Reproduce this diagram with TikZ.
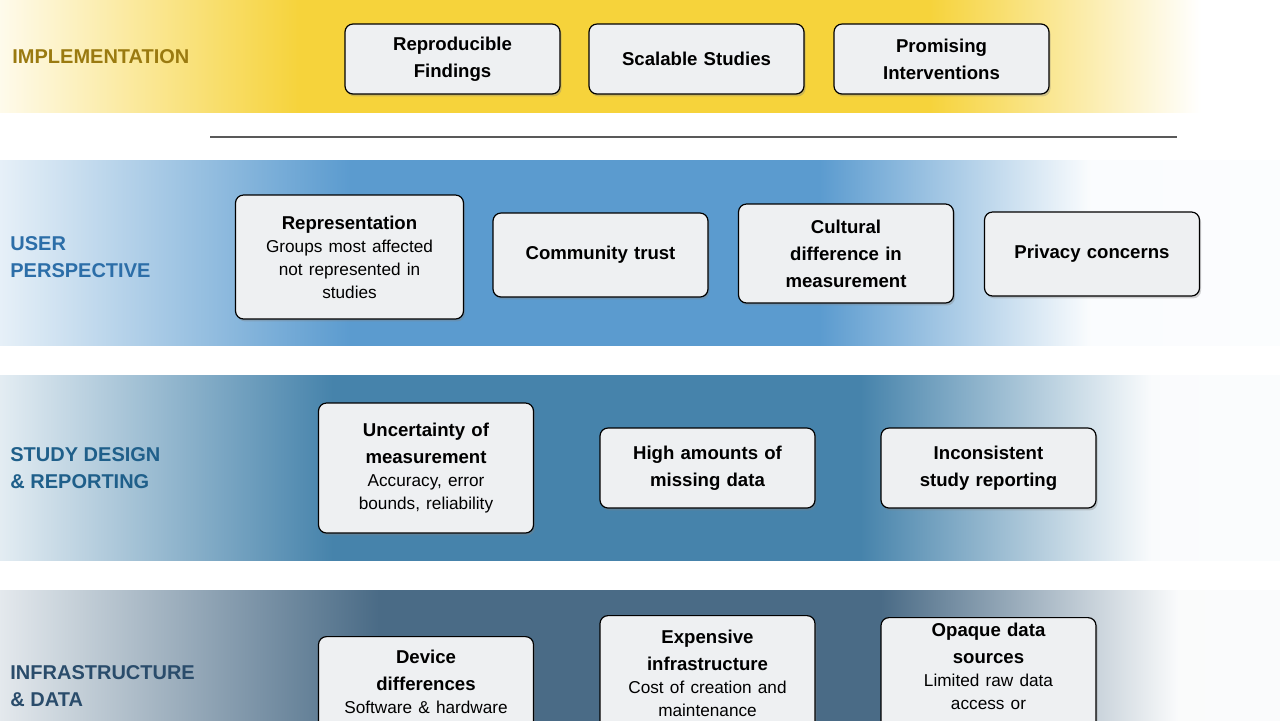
\documentclass[tikz,border=0pt]{standalone}
\usepackage{fontspec}
\setmainfont{Liberation Sans}
\usetikzlibrary{positioning,shadows}
\definecolor{implY}{HTML}{F6D33B}
\definecolor{userB}{HTML}{5B9BCF}
\definecolor{studyB}{HTML}{4683AB}
\definecolor{infraB}{HTML}{4A6B86}
\definecolor{cardfill}{HTML}{EEF0F2}
\definecolor{implT}{HTML}{9A7A10}
\definecolor{userT}{HTML}{2C6EA8}
\definecolor{studyT}{HTML}{1F5F8A}
\definecolor{infraT}{HTML}{2A4C6B}
\newcommand\subtxt{\fontsize{8.6pt}{11.5pt}\selectfont\mdseries}
\pgfdeclarehorizontalshading{implshade}{100bp}{color(0bp)=(white); color(25bp)=(white!90!implY); color(36.7bp)=(implY); color(61.3bp)=(implY); color(71.9bp)=(white); color(100bp)=(white)}
\pgfdeclarehorizontalshading{usershade}{100bp}{color(0bp)=(white); color(25bp)=(white!85!userB); color(38.7bp)=(userB); color(57bp)=(userB); color(67.6bp)=(white!97!userB); color(100bp)=(white)}
\pgfdeclarehorizontalshading{studyshade}{100bp}{color(0bp)=(white); color(25bp)=(white!85!studyB); color(38bp)=(studyB); color(58.6bp)=(studyB); color(70bp)=(white!97!studyB); color(100bp)=(white)}
\pgfdeclarehorizontalshading{infrashade}{100bp}{color(0bp)=(white); color(25bp)=(white!85!infraB); color(39.8bp)=(infraB); color(59.4bp)=(infraB); color(71bp)=(white!97!infraB); color(100bp)=(white)}
\tikzset{
  card/.style={draw=black, line width=0.6pt, fill=cardfill, rounded corners=4pt,
    minimum width=107.5pt, text width=100pt, align=center, inner sep=2pt,
    font=\fontsize{9.3pt}{13.5pt}\selectfont\bfseries,
    drop shadow={shadow xshift=0.8pt, shadow yshift=-1.2pt, opacity=0.35}},
  cardtext/.style={align=center, text width=100pt, inner sep=0pt,
    font=\fontsize{9.3pt}{13.5pt}\selectfont\bfseries},
  rowlabel/.style={anchor=west, align=left, inner sep=0pt,
    font=\fontsize{10pt}{13.5pt}\selectfont\bfseries}
}
\begin{document}
\begin{tikzpicture}[x=0.5pt, y=-0.5pt]
\useasboundingbox (0,0) rectangle (1280,720);
\clip (0,0) rectangle (1280,720);
% bands
\shade[shading=implshade] (0,0) rectangle (1280,112);
\shade[shading=usershade] (0,160) rectangle (1280,345);
\shade[shading=studyshade] (0,375) rectangle (1280,560);
\shade[shading=infrashade] (0,590) rectangle (1280,740);
\coordinate (divl) at (210,137);
\coordinate (divr) at (1177,137);
\draw[line width=1pt, black!65] (divl) -- (divr);
% row labels
\node[rowlabel, text=implT] (limpl) at (12,57) {IMPLEMENTATION};
\node[rowlabel, text=userT] (luser) at (10,257) {USER\\PERSPECTIVE};
\node[rowlabel, text=studyT] (lstudy) at (10,468) {STUDY DESIGN\\\& REPORTING};
\node[rowlabel, text=infraT] (linfra) at (10,686) {INFRASTRUCTURE\\\& DATA};
% implementation
\node[card, minimum height=35pt] (repro) at (452.5,59) {Reproducible\\Findings};
\node[card, minimum height=35pt] (scal) at (696.5,59) {Scalable Studies};
\node[card, minimum height=35pt] (prom) at (941.5,59) {Promising\\Interventions};
% user perspective
\node[card, minimum width=113.5pt, text width=110pt, minimum height=62pt] (repr) at (349.5,257)
  {Representation\\{\subtxt Groups most affected\\not represented in\\studies\par}};
\node[card, minimum height=42pt] (trust) at (600.5,255) {Community trust};
\node[card, minimum height=49.5pt] (cult) at (846,253.5) {Cultural\\difference in\\measurement};
\node[card, minimum height=42pt] (priv) at (1092,254) {Privacy concerns};
% study design
\node[card, minimum height=65pt] (unc) at (426,468) {Uncertainty of\\measurement\\{\subtxt Accuracy, error\\bounds, reliability\par}};
\node[card, minimum height=40pt] (miss) at (707.5,468) {High amounts of\\missing data};
\node[card, minimum height=40pt] (incon) at (988.5,468) {Inconsistent\\study reporting};
% infrastructure
\node[card, minimum height=80pt, anchor=north] (dev) at (426,636) {};
\node[cardtext, below=7pt of dev.north] (devt) {Device\\differences\\{\subtxt Software \& hardware\par}};
\node[card, minimum height=80pt, anchor=north] (exp) at (707.5,615) {};
\node[cardtext, below=7.5pt of exp.north] (expt) {Expensive\\infrastructure\\{\subtxt Cost of creation and\\maintenance\par}};
\node[card, minimum height=80pt, anchor=north] (opq) at (988.5,617) {};
\node[cardtext, below=3pt of opq.north] (opqt) {Opaque data\\sources\\{\subtxt Limited raw data\\access or\par}};
\end{tikzpicture}
\end{document}
